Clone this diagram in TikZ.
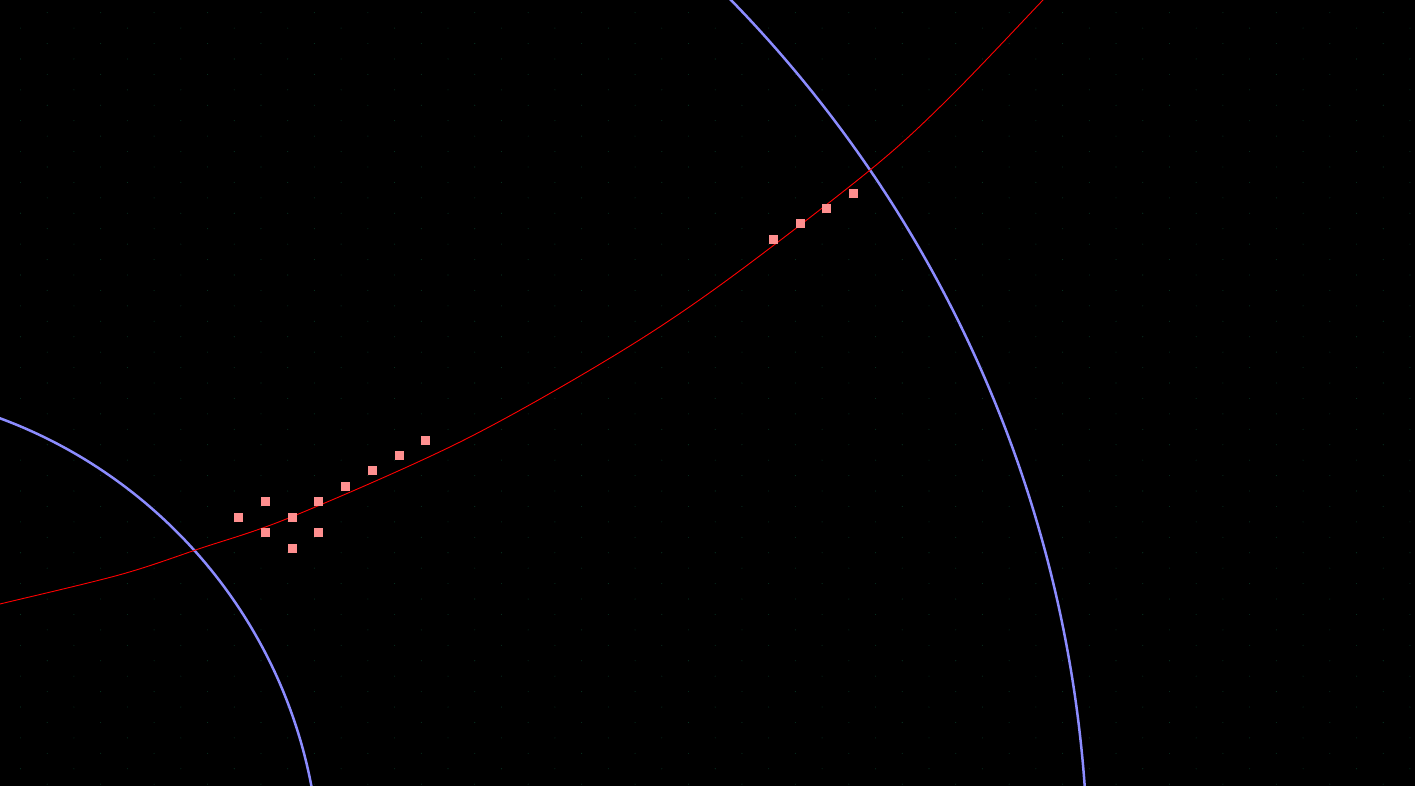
\documentclass[tikz,border=0pt]{standalone}
\usepackage{xcolor}
\usepackage{tikz}
\usetikzlibrary{positioning}

\definecolor{orbitblue}{RGB}{140,140,255}
\definecolor{pathred}{RGB}{255,0,0}
\definecolor{cellpink}{RGB}{255,143,143}
\definecolor{gridgreen}{RGB}{8,50,34}

\begin{document}
\begin{tikzpicture}[
    x=1pt, y=-1pt,
    orbit/.style={draw=orbitblue, line width=2.5pt},
    trajectory/.style={draw=pathred, line width=0.9pt},
    cell/.style={rectangle, fill=cellpink, minimum size=9pt, inner sep=0pt, outer sep=0pt},
    griddot/.style={fill=gridgreen},
]

% Background
\fill[black] (0,0) rectangle (1415,786);
\useasboundingbox (0,0) rectangle (1415,786);
\clip (0,0) rectangle (1415,786);

% Hex grid dots
\foreach \i in {0,...,52} {
  \pgfmathsetmacro{\xpos}{20.5+26.72*\i}
  \pgfmathsetmacro{\yoff}{1-mod(\i,2)}
  \foreach \m in {0,...,25} {
    \pgfmathsetmacro{\ypos}{12.69+15.43*(2*\m+\yoff)}
    \fill[griddot] (\xpos,\ypos) circle[radius=0.55pt];
  }
}

% Sun and orbits
\coordinate (sun) at (-170,878);
\draw[orbit] (sun) circle[radius=490pt];
\draw[orbit] (sun) circle[radius=1258pt];

% Transfer trajectory
\draw[trajectory] plot[smooth, tension=0.55] coordinates {
  (-20,609) (0,604) (120,574.7) (200,548.5) (292,516.7) (460,442)
  (608,359.3) (719,286) (868,171.7) (947,100) (1043,0) (1060,-18)};

% Departure cells
\foreach \x/\y [count=\n] in {238.3/517.3, 265.3/501.3, 265.3/532.3, 292.3/517.3,
    292.3/548.3, 318.3/501.3, 318.3/532.3, 345.3/486.3, 372.3/470.7,
    399.3/455.3, 425.3/440} {
  \node[cell] (dep\n) at (\x,\y) {};
}

% Arrival cells
\foreach \x/\y [count=\n] in {773.3/239.3, 800/223.8, 826.3/208.3, 853.3/193.3} {
  \node[cell] (arr\n) at (\x,\y) {};
}

\end{tikzpicture}
\end{document}
